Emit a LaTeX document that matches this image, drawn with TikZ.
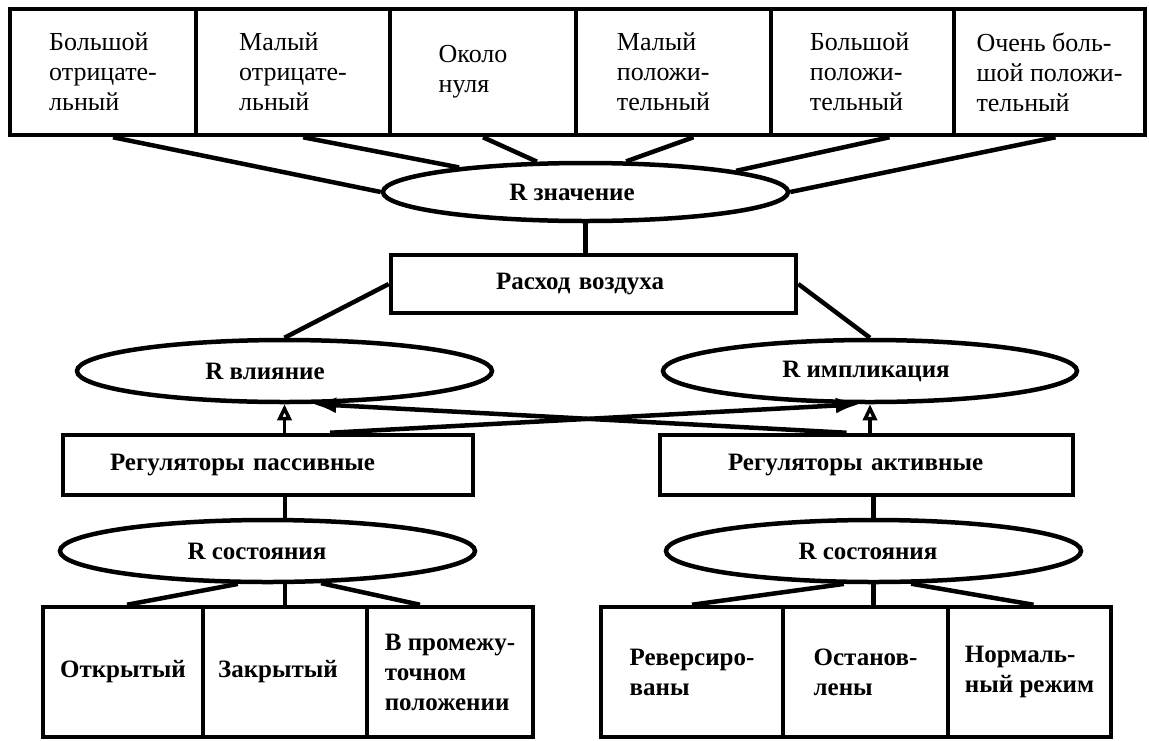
\documentclass[tikz,border=0pt]{standalone}
\usepackage{fontspec}
\setmainfont{Liberation Serif}
\usetikzlibrary{arrows.meta,calc,shapes.geometric}
\begin{document}
\begin{tikzpicture}[x=1pt,y=-1pt,
  cell/.style={draw, line width=4.5pt, rectangle, inner sep=0pt, align=left,
    font=\fontsize{26}{30}\selectfont},
  topcell/.style={cell, minimum height=126pt},
  bcell/.style={cell, font=\fontsize{25}{30}\selectfont\bfseries},
  botcell/.style={bcell, minimum height=130pt},
  oval/.style={draw, ellipse, line width=4.5pt, inner sep=0pt,
    font=\fontsize{25}{30}\selectfont\bfseries},
  conn/.style={line width=4.5pt},
  cross/.style={line width=4.5pt, -{Latex[length=24pt,width=16pt]}},
  up/.style={line width=3.5pt, -{Triangle[open,length=16pt,width=14pt]}}
]
\fill[white] (0,0) rectangle (1149,740);
\useasboundingbox (0,0) rectangle (1149,740);

% top row
\node[topcell, minimum width=186pt] (b1) at (103,72) {Большой\\отрицате-\hspace*{18pt}\\льный};
\node[topcell, minimum width=194pt] (b2) at (293,72) {Малый\\отрицате-\hspace*{18pt}\\льный};
\node[topcell, minimum width=186pt] (b3) at (483,72) {Около\hspace*{20pt}\\нуля};
\node[topcell, minimum width=195pt] (b4) at (673.5,72) {Малый\\положи-\\тельный\hspace*{20pt}};
\node[topcell, minimum width=183pt] (b5) at (862.5,72) {Большой\\положи-\\тельный\hspace*{12pt}};
\node[topcell, minimum width=191pt] (b6) at (1049.5,72) {Очень боль-\\шой положи-\\тельный};

% R значение
\node[oval, minimum width=405pt, minimum height=58pt] (rz) at (585.5,192) {R значение\hspace*{27pt}};

\draw[conn] ($(b1.south)+(10,0)$) -- (rz.180);
\draw[conn] ($(b2.south)+(10,0)$) -- (rz.169);
\draw[conn] (b3.south) -- (rz.148);
\draw[conn] ($(b4.south)+(20,0)$) -- (rz.37);
\draw[conn] ($(b5.south)+(27,0)$) -- (rz.8);
\draw[conn] ($(b6.south)+(6,0)$) -- (rz.0);

% Расход воздуха
\node[bcell, minimum width=405pt, minimum height=58pt, text width=195pt] (rv) at (593.5,284) {Расход воздуха};
\draw[conn] (rz.south) -- (rz.south |- rv.north);

% R влияние / R импликация
\node[oval, minimum width=415pt, minimum height=62pt] (rvl) at (284.5,371) {R влияние\hspace*{39pt}};
\node[oval, minimum width=414pt, minimum height=62pt] (ri) at (870,371) {R импликация\hspace*{8pt}};
\draw[conn] (rv.west) -- (rvl.north);
\draw[conn] (rv.east) -- (ri.north);

% regulators
\node[bcell, minimum width=410pt, minimum height=60pt, text width=316pt] (rp) at (268,465) {Регуляторы пассивные};
\node[bcell, minimum width=413pt, minimum height=60pt, text width=277pt] (ra) at (866.5,465) {Регуляторы активные};

\draw[up] (rvl.south |- rp.north) -- (rvl.south);
\draw[up] (ri.south |- ra.north) -- (ri.south);
\draw[cross] ($(ra.north)+(-20,0)$) -- (rvl.-50);
\draw[cross] ($(rp.north)+(62,0)$) -- (ri.-107);

% R состояния
\node[oval, minimum width=415pt, minimum height=62pt] (rsl) at (267.5,551) {R состояния\hspace*{21pt}};
\node[oval, minimum width=415pt, minimum height=62pt] (rsr) at (873.5,551) {R состояния\hspace*{11pt}};

% bottom rows
\node[botcell, minimum width=160pt] (c1) at (123,672) {Открытый};
\node[botcell, minimum width=164pt] (c2) at (285,672) {Закрытый\hspace*{14pt}};
\node[botcell, minimum width=166pt] (c3) at (450,672) {В промежу-\\точном\\положении};
\node[botcell, minimum width=182pt] (d1) at (692,672) {Реверсиро-\\ваны};
\node[botcell, minimum width=165pt] (d2) at (865.5,672) {Останов-\\лены};
\node[botcell, minimum width=163pt] (d3) at (1029.5,672) {Нормаль-\\ный режим};

\draw[conn] (c2.north |- rp.south) -- (c2.north |- rsl.north);
\draw[conn] (c2.north |- rsl.south) -- (c2.north);
\draw[conn] (rsl.228) -- ($(c1.north)+(4,0)$);
\draw[conn] (rsl.-31) -- ($(c3.north)+(-30,0)$);

\draw[conn] (rsr.north |- ra.south) -- (rsr.north);
\draw[conn] (rsr.south) -- (rsr.south |- d2.north);
\draw[conn] (rsr.228) -- (d1.north);
\draw[conn] (rsr.-41) -- ($(d3.north)+(4,0)$);
\end{tikzpicture}
\end{document}
